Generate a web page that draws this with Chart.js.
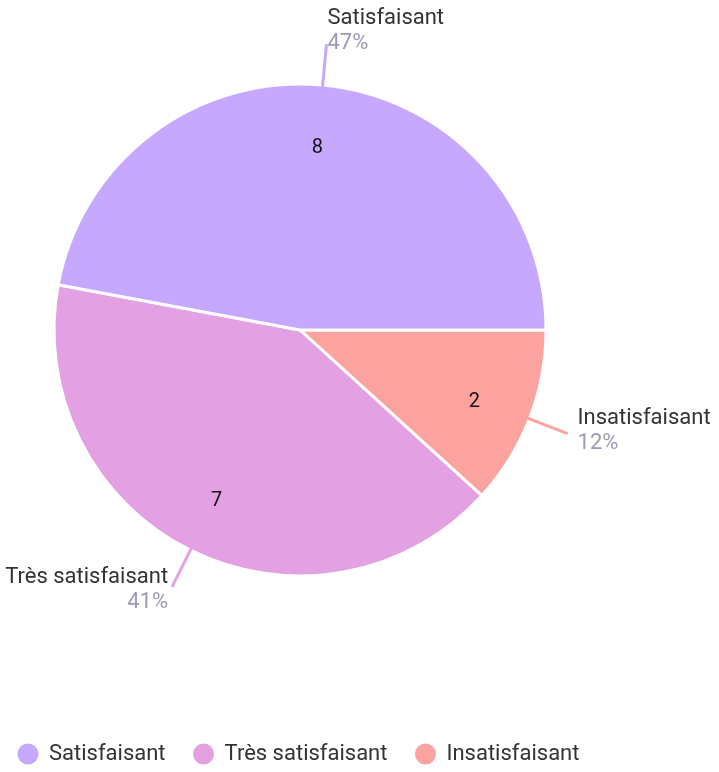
<!DOCTYPE html>
<html>
<head>
<meta charset="utf-8">
<script src="https://cdn.jsdelivr.net/npm/chart.js@4/dist/chart.umd.min.js"></script>
<style>
  html, body { margin: 0; padding: 0; background: #fff; }
  #wrap { width: 719px; height: 772px; }
</style>
</head>
<body>
<div id="wrap"><canvas id="pie" width="719" height="772"></canvas></div>
<script>
/* ---- data (legend order) ---- */
const labels = ['Satisfaisant', 'Très satisfaisant', 'Insatisfaisant'];
const counts = [8, 7, 2];
const colors = ['#c6a8ff', '#e3a1e3', '#fca3a0'];

const FONT = 'Roboto, "Noto Sans", sans-serif';
const total = counts.reduce((a, b) => a + b, 0);

/* chart draws clockwise from 3 o'clock, so feed it the reverse order */
const chartLabels = labels.slice().reverse();
const chartCounts = counts.slice().reverse();
const chartColors = colors.slice().reverse();

/* --- put the pie where the original has it --- */
const pieArea = {
  id: 'pieArea',
  afterLayout(chart) {
    chart.chartArea = { left: 45, top: 75, right: 555, bottom: 585, width: 510, height: 510 };
  }
};

/* --- value inside, leader line + name / percent outside --- */
const sliceLabels = {
  id: 'sliceLabels',
  afterDatasetsDraw(chart) {
    const ctx = chart.ctx;
    const meta = chart.getDatasetMeta(0);
    meta.data.forEach((arc, i) => {
      const { x, y, startAngle, endAngle, outerRadius } = arc.getProps(['x', 'y', 'startAngle', 'endAngle', 'outerRadius'], true);
      const mid = (startAngle + endAngle) / 2;
      const cx = Math.cos(mid), sy = Math.sin(mid);
      const val = chartCounts[i];

      // value inside slice
      ctx.save();
      ctx.fillStyle = '#111';
      ctx.font = '20px ' + FONT;
      ctx.textAlign = 'center';
      ctx.textBaseline = 'middle';
      ctx.fillText(String(val), x + cx * outerRadius * 0.76, y + sy * outerRadius * 0.76 + 4);

      // leader line
      const r0 = outerRadius - 2, r1 = outerRadius + 41;
      const ex = x + cx * r1, ey = y + sy * r1;
      ctx.strokeStyle = chartColors[i];
      ctx.lineWidth = 3;
      ctx.beginPath();
      ctx.moveTo(x + cx * r0, y + sy * r0);
      ctx.lineTo(ex, ey);
      ctx.stroke();

      // name + percent
      let tx, align;
      if (cx > 0.3) { tx = ex + 10; align = 'left'; }
      else if (cx < -0.3) { tx = ex - 4; align = 'right'; }
      else { tx = ex + 1; align = 'left'; }
      const blockMid = sy < -0.9 ? ey - 13 : ey + 10 * sy - 6;
      ctx.textAlign = align;
      ctx.textBaseline = 'middle';
      ctx.font = '22px ' + FONT;
      ctx.fillStyle = '#333';
      ctx.fillText(chartLabels[i], tx, blockMid - 12.5);
      ctx.fillStyle = '#9c9bb7';
      ctx.fillText(Math.round(val / total * 100) + '%', tx, blockMid + 12.5);
      ctx.restore();
    });
  }
};

new Chart(document.getElementById('pie'), {
  type: 'pie',
  data: {
    labels: chartLabels,
    datasets: [{
      data: chartCounts,
      backgroundColor: chartColors,
      borderColor: '#fff',
      borderWidth: 3
    }]
  },
  options: {
    responsive: false,
    animation: false,
    devicePixelRatio: 1,
    rotation: 90,
    radius: 246,
    layout: { padding: { left: -10, right: 0, top: 0, bottom: -3 } },
    plugins: {
      tooltip: { enabled: false },
      legend: {
        position: 'bottom',
        align: 'start',
        reverse: true,
        labels: {
          usePointStyle: true,
          pointStyle: 'circle',
          boxWidth: 20,
          boxHeight: 17,
          padding: 28,
          color: '#333',
          font: { family: FONT, size: 22 }
        }
      }
    }
  },
  plugins: [pieArea, sliceLabels]
});
</script>
</body>
</html>
